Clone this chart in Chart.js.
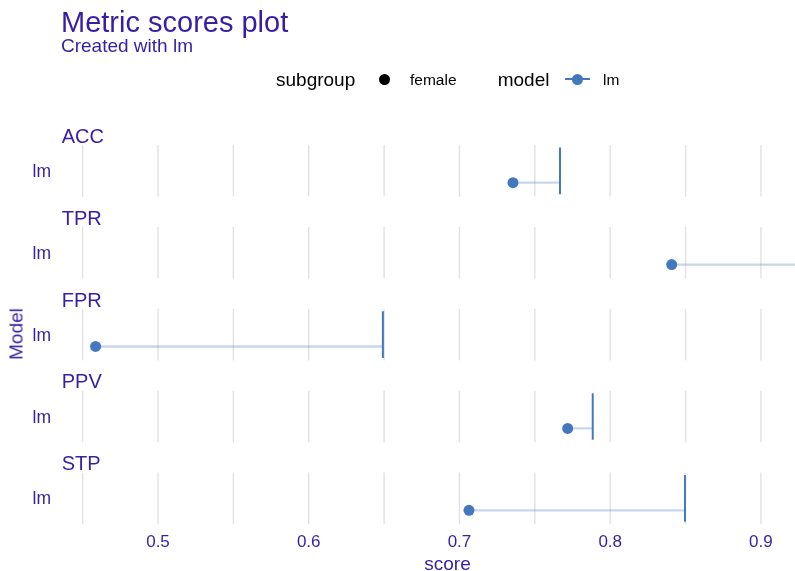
<!DOCTYPE html>
<html>
<head>
<meta charset="utf-8">
<title>Metric scores plot</title>
<script src="https://cdn.jsdelivr.net/npm/chart.js@4.4.1/dist/chart.umd.min.js"></script>
<style>
  body { margin: 0; background: #fff; overflow: hidden; font-family: "Liberation Sans", Arial, sans-serif; }
  #wrap { position: relative; width: 795px; height: 571px; }
  #grafico { position: absolute; left: 0; top: 0; }
  .txt { position: absolute; line-height: 1; white-space: nowrap; color: #371ea3; }
  .leg { color: #000; }
  .dot { position: absolute; width: 11px; height: 11px; border-radius: 50%; }
</style>
</head>
<body>
<div id="wrap">
  <canvas id="grafico" width="795" height="571"></canvas>

  <div class="txt" style="left:61px; top:7.8px; font-size:29px;">Metric scores plot</div>
  <div class="txt" style="left:61px; top:35.6px; font-size:19px;">Created with lm</div>

  <!-- legenda -->
  <div class="txt leg" style="left:276px; top:69.9px; font-size:19px;">subgroup</div>
  <div class="dot" style="left:378.5px; top:73.8px; background:#000;"></div>
  <div class="txt leg" style="left:410px; top:71.9px; font-size:15.5px;">female</div>
  <div class="txt leg" style="left:497.7px; top:70.4px; font-size:19px;">model</div>
  <div style="position:absolute; left:565px; top:78.3px; width:25px; height:2px; background:#4378bf;"></div>
  <div class="dot" style="left:572.2px; top:73.8px; background:#4378bf;"></div>
  <div class="txt leg" style="left:603px; top:71.9px; font-size:15.5px;">lm</div>

  <!-- titulos dos eixos -->
  <div class="txt" style="left:447.5px; top:553.5px; font-size:19px; transform:translateX(-50%);">score</div>
  <div class="txt" style="left:16.4px; top:334px; font-size:19px; transform:translate(-50%,-50%) rotate(-90deg);">Model</div>
</div>

<script>
// dados
const metrics = ['ACC', 'TPR', 'FPR', 'PPV', 'STP'];
const femaleScores = [0.7355, 0.8408, 0.4586, 0.7718, 0.7063];
const referenceScores = [0.7667, 0.93, 0.6492, 0.7884, 0.8496];
const modelLabels = ['lm', 'lm', 'lm', 'lm', 'lm'];
const gridValues = [0.45, 0.5, 0.55, 0.6, 0.65, 0.7, 0.75, 0.8, 0.85, 0.9];
const labeledValues = [0.5, 0.6, 0.7, 0.8, 0.9];
const tickLabels = ['0.5', '0.6', '0.7', '0.8', '0.9'];

/* ================= LAYOUT DAS FACETAS ================= */
// cada faceta ocupa [i, i+1] no eixo y (invertido)
const PANEL_TOP = 0.37;
const LABEL_Y = 0.70;
const POINT_Y = 0.83;
const VLINE_TOP = 0.40;
const VLINE_BOT = 0.97;
const STRIP_BASE = 0.342;

const COR = '#4378bf';
const COR_TEXTO = '#371ea3';

const datasets = [];

datasets.push({
  label: 'female',
  data: femaleScores.map((v, i) => ({ x: v, y: i + POINT_Y })),
  pointRadius: 5.5,
  pointHoverRadius: 5.5,
  pointBackgroundColor: COR,
  pointBorderWidth: 0,
  showLine: false,
  order: 0
});

metrics.forEach((m, i) => {
  datasets.push({
    label: m + ' ref',
    data: [{ x: referenceScores[i], y: i + VLINE_TOP }, { x: referenceScores[i], y: i + VLINE_BOT }],
    showLine: true,
    borderColor: COR,
    borderWidth: 2,
    pointRadius: 0,
    clip: 0,
    order: 1
  });
  datasets.push({
    label: m + ' diff',
    data: [{ x: femaleScores[i], y: i + POINT_Y }, { x: referenceScores[i], y: i + POINT_Y }],
    showLine: true,
    borderColor: 'rgba(67, 120, 191, 0.3)',
    borderWidth: 2.3,
    pointRadius: 0,
    clip: 0,
    order: 2
  });
});

// grade vertical por painel + rotulos das facetas
const facetas = {
  id: 'facetas',
  beforeDatasetsDraw(chart) {
    const { ctx, chartArea, scales: { x, y } } = chart;
    ctx.save();
    ctx.strokeStyle = '#e2e2e2';
    ctx.lineWidth = 1.4;
    metrics.forEach((m, i) => {
      const y0 = y.getPixelForValue(i + PANEL_TOP);
      const y1 = y.getPixelForValue(i + 1);
      x.ticks.forEach(t => {
        const px = x.getPixelForValue(t.value);
        ctx.beginPath();
        ctx.moveTo(px, y0);
        ctx.lineTo(px, y1);
        ctx.stroke();
      });
      ctx.fillStyle = COR_TEXTO;
      ctx.font = '20px "Liberation Sans", Arial, sans-serif';
      ctx.textBaseline = 'alphabetic';
      ctx.textAlign = 'left';
      ctx.fillText(m, chartArea.left + 4.7, y.getPixelForValue(i + STRIP_BASE));
    });
    ctx.restore();
  }
};

new Chart(document.getElementById('grafico'), {
  type: 'scatter',
  data: { datasets: datasets },
  options: {
    responsive: false,
    animation: false,
    events: [],
    layout: { autoPadding: false, padding: { top: 114.7, left: 0, right: 0, bottom: 0 } },
    plugins: {
      legend: { display: false },
      tooltip: { enabled: false }
    },
    scales: {
      x: {
        type: 'linear',
        position: 'bottom',
        min: 0.433,
        max: 0.9226,
        grid: { display: false, drawTicks: false },
        border: { display: false },
        afterBuildTicks: s => { s.ticks = gridValues.map(v => ({ value: v })); },
        afterFit: s => { s.height = 46.8; },
        ticks: {
          autoSkip: false,
          maxRotation: 0,
          padding: 8.4,
          color: COR_TEXTO,
          font: { family: '"Liberation Sans", Arial, sans-serif', size: 17 },
          callback: v => {
            const k = labeledValues.findIndex(l => Math.abs(l - v) < 1e-9);
            return k >= 0 ? tickLabels[k] : '';
          }
        }
      },
      y: {
        type: 'linear',
        min: 0,
        max: 5,
        reverse: true,
        grid: { display: false, drawTicks: false },
        border: { display: false },
        afterBuildTicks: s => { s.ticks = modelLabels.map((l, i) => ({ value: i + LABEL_Y })); },
        afterFit: s => { s.width = 57; },
        ticks: {
          padding: 6,
          color: COR_TEXTO,
          font: { family: '"Liberation Sans", Arial, sans-serif', size: 17.5 },
          callback: (v, idx) => modelLabels[idx]
        }
      }
    }
  },
  plugins: [facetas]
});
</script>
</body>
</html>
